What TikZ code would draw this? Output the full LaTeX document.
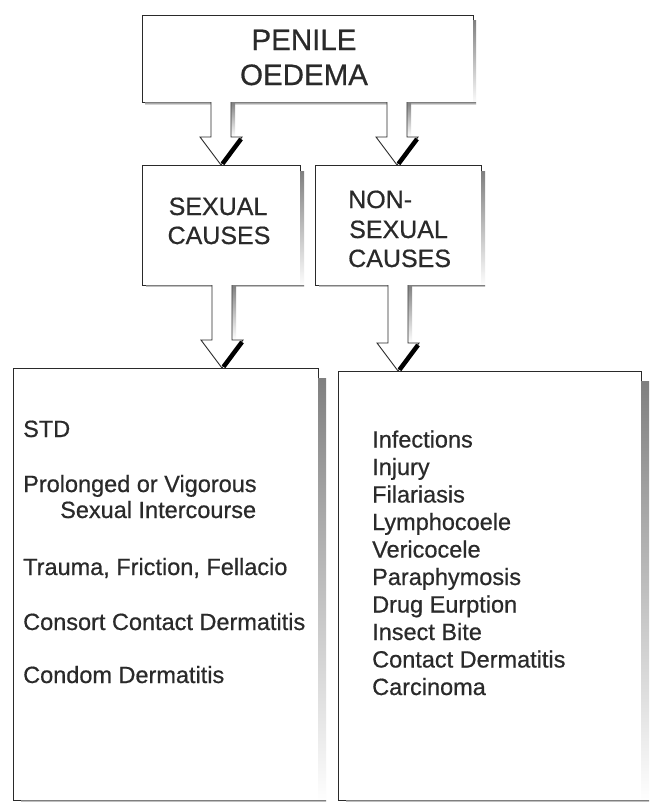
\documentclass[tikz,border=0pt]{standalone}
\usepackage{fontspec}
\setmainfont{Liberation Sans}
\newfontfamily\heavyfont{Liberation Sans}[FakeBold=0.6]
\usetikzlibrary{calc}
\definecolor{ink}{HTML}{2A2A2A}
\definecolor{shade}{HTML}{484848}
\tikzset{
  box/.style={draw=ink, line width=0.9pt, fill=white, anchor=north west, inner sep=0pt, outer sep=0pt},
  hollow/.style={draw=ink, line width=0.9pt, fill=white, line join=miter},
  bigtxt/.style={text=ink, inner sep=0pt, anchor=base, font=\heavyfont\fontsize{29.5}{35}\selectfont},
  midtxt/.style={text=ink, inner sep=0pt, font=\heavyfont\fontsize{25}{30}\selectfont},
  listtxt/.style={text=ink, inner sep=0pt, anchor=base west, font=\heavyfont\fontsize{23.5}{28}\selectfont},
}
\newcommand\boxshadow[3]{%
  \fill[shade] ($(#1.north east)+(0,#2+2)$) rectangle ($(#1.south east)+(#2,#3)$);
  \fill[shade] ($(#1.south west)+(#2,0)$) rectangle ($(#1.south east)+(#2,#3)$);
}
\newcommand\blockarrow[3]{%
  \coordinate (ba-s) at (#1 |- #2.south);
  \coordinate (ba-t) at (#1 |- #3.north);
  \fill[shade] ($(ba-s)+(9,0)$) rectangle ($(ba-t)+(14,-28)$);
  \draw[hollow] ($(ba-s)+(-10,0)$) -- ($(ba-t)+(-10,-28)$) -- ($(ba-t)+(-21,-28)$)
     -- (ba-t) -- ($(ba-t)+(21,-28)$) -- ($(ba-t)+(10,-28)$) -- ($(ba-s)+(10,0)$);
  \draw[shade, line width=4.5pt] ($(ba-t)+(1.5,-1.2)$) -- ($(ba-t)+(20,-26)$);
}
\begin{document}
\begin{tikzpicture}[x=1pt,y=-1pt]
\useasboundingbox[fill=white] (0,0) rectangle (649,803);

% boxes
\node[box, minimum width=331pt, minimum height=87pt] (top) at (142,15) {};
\boxshadow{top}{3}{3}
\node[box, minimum width=158pt, minimum height=120pt] (sex) at (142,165) {};
\boxshadow{sex}{4}{2}
\node[box, minimum width=166pt, minimum height=120pt] (nonsex) at (315,165) {};
\boxshadow{nonsex}{4}{2}
\node[box, minimum width=305pt, minimum height=432pt] (lbox) at (13,368) {};
\boxshadow{lbox}{8}{2}
\node[box, minimum width=303pt, minimum height=429pt] (rbox) at (338,371) {};
\boxshadow{rbox}{8}{2}

% arrows
\coordinate (ax1) at (221,0);
\coordinate (ax2) at (397,0);
\coordinate (ax3) at (222,0);
\coordinate (ax4) at (398,0);
\blockarrow{ax1}{top}{sex}
\blockarrow{ax2}{top}{nonsex}
\blockarrow{ax3}{sex}{lbox}
\blockarrow{ax4}{nonsex}{rbox}

% titles
\node[bigtxt] (t1) at (304,50) {PENILE};
\node[bigtxt] (t2) at (304,85) {OEDEMA};

\node[midtxt, anchor=base] (s1) at (218,215) {SEXUAL};
\node[midtxt, anchor=base] (s2) at (219,244) {CAUSES};

\node[midtxt, anchor=base west] (n1) at (348,208) {NON-};
\node[midtxt, anchor=base west] (n2) at (349,238) {SEXUAL};
\node[midtxt, anchor=base west] (n3) at (348,267) {CAUSES};

% left list
\node[listtxt] (l1) at (23,437) {STD};
\node[listtxt] (l2) at (23,492) {Prolonged or Vigorous};
\node[listtxt] (l3) at (60,518) {Sexual Intercourse};
\node[listtxt] (l4) at (23,575) {Trauma, Friction, Fellacio};
\node[listtxt] (l5) at (23,630) {Consort Contact Dermatitis};
\node[listtxt] (l6) at (23,683) {Condom Dermatitis};

% right list
\node[listtxt] (r1) at (372,447.5) {Infections};
\node[listtxt] (r2) at (372,475) {Injury};
\node[listtxt] (r3) at (372,502.5) {Filariasis};
\node[listtxt] (r4) at (372,530) {Lymphocoele};
\node[listtxt] (r5) at (372,557.5) {Vericocele};
\node[listtxt] (r6) at (372,585) {Paraphymosis};
\node[listtxt] (r7) at (372,612.5) {Drug Eurption};
\node[listtxt] (r8) at (372,640) {Insect Bite};
\node[listtxt] (r9) at (372,667.5) {Contact Dermatitis};
\node[listtxt] (r10) at (372,695) {Carcinoma};
\end{tikzpicture}
\end{document}
